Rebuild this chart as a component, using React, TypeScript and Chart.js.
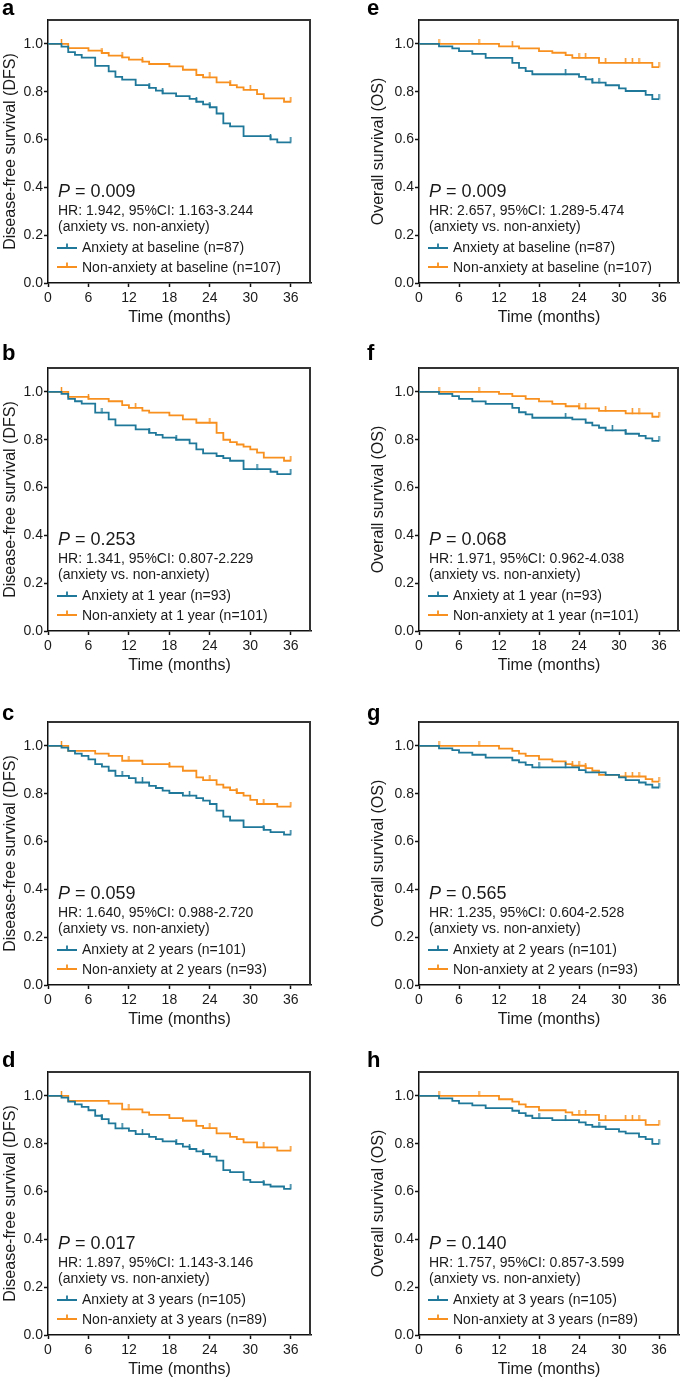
import React, { useEffect, useRef } from "react";
import { Chart, registerables } from "chart.js";
Chart.register(...registerables);

// ---------- axis ticks ----------
const xTicks = [0, 6, 12, 18, 24, 30, 36];
const yTicks = [0, 0.2, 0.4, 0.6, 0.8, 1.0];
const yTickLabels = ["0.0", "0.2", "0.4", "0.6", "0.8", "1.0"];
const X_MAX = 39;
const Y_MAX = 1.1;

// ---------- panel a (DFS, baseline) ----------
const aAnxT = [0, 2, 3, 4, 5, 7, 9, 10, 11, 13, 15, 16, 17, 19, 21, 22, 23, 24, 25, 26, 27, 29, 33, 34, 36];
const aAnxS = [1, 0.989, 0.966, 0.954, 0.943, 0.908, 0.885, 0.862, 0.851, 0.828, 0.816, 0.805, 0.793, 0.782, 0.77, 0.758, 0.747, 0.735, 0.709, 0.668, 0.655, 0.614, 0.601, 0.588, 0.588];
const aAnxC = [15, 17, 22, 24, 33, 36];
const aNonT = [0, 3, 6, 8, 9, 11, 12, 14, 15, 18, 20, 22, 23, 25, 27, 28, 29, 31, 32, 35, 36];
const aNonS = [1, 0.982, 0.972, 0.962, 0.951, 0.944, 0.934, 0.926, 0.916, 0.906, 0.892, 0.87, 0.86, 0.839, 0.828, 0.818, 0.808, 0.79, 0.772, 0.758, 0.758];
const aNonC = [2, 8, 11, 14, 24, 27, 30, 36];

// ---------- panel b (DFS, 1 year) ----------
const bAnxT = [0, 2, 3, 4, 5, 7, 9, 10, 13, 15, 16, 17, 19, 21, 22, 23, 25, 26, 27, 29, 33, 34, 36];
const bAnxS = [1, 0.992, 0.971, 0.961, 0.951, 0.913, 0.885, 0.86, 0.843, 0.829, 0.82, 0.809, 0.8, 0.785, 0.76, 0.743, 0.732, 0.723, 0.712, 0.677, 0.666, 0.656, 0.656];
const bAnxC = [8, 15, 19, 31, 36];
const bNonT = [0, 3, 6, 9, 11, 12, 14, 15, 18, 20, 22, 25, 26, 27, 28, 29, 30, 31, 32, 35, 36];
const bNonS = [1, 0.979, 0.971, 0.961, 0.945, 0.933, 0.922, 0.913, 0.902, 0.885, 0.871, 0.829, 0.8, 0.79, 0.78, 0.771, 0.76, 0.746, 0.725, 0.712, 0.712];
const bNonC = [2, 6, 13, 24, 36];

// ---------- panel c (DFS, 2 years) ----------
const cAnxT = [0, 2, 3, 4, 5, 6, 7, 8, 9, 10, 12, 13, 15, 16, 17, 18, 20, 22, 23, 24, 25, 26, 27, 29, 32, 33, 35, 36];
const cAnxS = [1, 0.993, 0.979, 0.968, 0.958, 0.944, 0.924, 0.913, 0.896, 0.875, 0.865, 0.847, 0.833, 0.824, 0.813, 0.803, 0.792, 0.782, 0.771, 0.757, 0.729, 0.704, 0.688, 0.66, 0.649, 0.639, 0.629, 0.629];
const cAnxC = [11, 14, 21, 32, 36];
const cNonT = [0, 3, 7, 9, 11, 14, 18, 20, 22, 23, 25, 26, 27, 28, 29, 30, 31, 34, 36];
const cNonS = [1, 0.979, 0.968, 0.958, 0.938, 0.924, 0.913, 0.896, 0.868, 0.857, 0.838, 0.826, 0.815, 0.803, 0.792, 0.774, 0.757, 0.746, 0.746];
const cNonC = [2, 12, 18, 24, 28, 32, 36];

// ---------- panel d (DFS, 3 years) ----------
const dAnxT = [0, 2, 3, 4, 5, 6, 7, 8, 9, 10, 12, 13, 15, 16, 17, 19, 20, 21, 22, 23, 24, 25, 26, 27, 29, 30, 32, 33, 35, 36];
const dAnxS = [1, 0.993, 0.976, 0.965, 0.954, 0.94, 0.917, 0.903, 0.885, 0.864, 0.854, 0.84, 0.829, 0.819, 0.81, 0.799, 0.788, 0.778, 0.768, 0.757, 0.746, 0.729, 0.69, 0.681, 0.649, 0.639, 0.629, 0.621, 0.611, 0.611];
const dAnxC = [8, 11, 14, 19, 21, 23, 32, 36];
const dNonT = [0, 3, 9, 11, 14, 15, 18, 20, 22, 23, 25, 27, 28, 29, 31, 34, 36];
const dNonS = [1, 0.979, 0.968, 0.944, 0.931, 0.921, 0.907, 0.896, 0.875, 0.865, 0.843, 0.829, 0.819, 0.806, 0.785, 0.771, 0.771];
const dNonC = [2, 12, 24, 32, 36];

// ---------- panel e (OS, baseline) ----------
const eAnxT = [0, 3, 5, 6, 8, 10, 14, 15, 16, 17, 24, 25, 26, 28, 30, 31, 34, 35, 36];
const eAnxS = [1, 0.99, 0.981, 0.97, 0.958, 0.942, 0.921, 0.9, 0.886, 0.873, 0.862, 0.852, 0.838, 0.827, 0.814, 0.803, 0.787, 0.769, 0.769];
const eAnxC = [22, 26, 27, 36];
const eNonT = [0, 12, 15, 18, 20, 22, 23, 27, 35, 36];
const eNonS = [1, 0.99, 0.981, 0.97, 0.963, 0.953, 0.942, 0.921, 0.903, 0.903];
const eNonC = [3, 9, 14, 24, 25, 28, 31, 32, 33, 36];

// ---------- panel f (OS, 1 year) ----------
const fAnxT = [0, 3, 5, 6, 8, 10, 14, 15, 16, 17, 23, 25, 26, 27, 28, 31, 33, 34, 35, 36];
const fAnxS = [1, 0.992, 0.982, 0.971, 0.96, 0.95, 0.933, 0.915, 0.906, 0.892, 0.885, 0.871, 0.86, 0.85, 0.839, 0.825, 0.816, 0.806, 0.795, 0.795];
const fAnxC = [22, 29, 31, 36];
const fNonT = [0, 12, 14, 16, 18, 20, 22, 24, 27, 31, 35, 36];
const fNonS = [1, 0.992, 0.982, 0.971, 0.96, 0.95, 0.94, 0.931, 0.921, 0.91, 0.896, 0.896];
const fNonC = [3, 9, 24, 25, 28, 32, 33, 36];

// ---------- panel g (OS, 2 years) ----------
const gAnxT = [0, 3, 5, 6, 8, 10, 14, 15, 16, 17, 24, 25, 28, 30, 31, 33, 34, 35, 36];
const gAnxS = [1, 0.99, 0.982, 0.972, 0.963, 0.951, 0.94, 0.931, 0.921, 0.91, 0.899, 0.889, 0.879, 0.868, 0.857, 0.847, 0.838, 0.826, 0.826];
const gAnxC = [18, 22, 36];
const gNonT = [0, 12, 14, 15, 16, 18, 20, 22, 23, 25, 26, 27, 30, 34, 35, 36];
const gNonS = [1, 0.989, 0.979, 0.968, 0.958, 0.944, 0.935, 0.924, 0.917, 0.907, 0.896, 0.879, 0.872, 0.861, 0.851, 0.851];
const gNonC = [3, 9, 23, 24, 25, 31, 32, 33, 36];

// ---------- panel h (OS, 3 years) ----------
const hAnxT = [0, 3, 5, 6, 8, 10, 14, 15, 16, 17, 20, 24, 25, 26, 28, 30, 31, 33, 34, 35, 36];
const hAnxS = [1, 0.99, 0.979, 0.969, 0.96, 0.949, 0.938, 0.928, 0.917, 0.907, 0.899, 0.889, 0.879, 0.871, 0.861, 0.851, 0.843, 0.829, 0.819, 0.799, 0.799];
const hAnxC = [18, 22, 27, 36];
const hNonT = [0, 12, 14, 15, 16, 18, 22, 23, 27, 34, 36];
const hNonS = [1, 0.986, 0.976, 0.965, 0.954, 0.94, 0.931, 0.921, 0.899, 0.879, 0.879];
const hNonC = [3, 9, 24, 25, 28, 31, 32, 33, 36];

// ---------- texts ----------
const panelLetters = ["a", "b", "c", "d", "e", "f", "g", "h"];
const pValues = ["0.009", "0.253", "0.059", "0.017", "0.009", "0.068", "0.565", "0.140"];
const hrTexts = [
  "HR: 1.942, 95%CI: 1.163-3.244",
  "HR: 1.341, 95%CI: 0.807-2.229",
  "HR: 1.640, 95%CI: 0.988-2.720",
  "HR: 1.897, 95%CI: 1.143-3.146",
  "HR: 2.657, 95%CI: 1.289-5.474",
  "HR: 1.971, 95%CI: 0.962-4.038",
  "HR: 1.235, 95%CI: 0.604-2.528",
  "HR: 1.757, 95%CI: 0.857-3.599",
];
const compareText = "(anxiety vs. non-anxiety)";
const anxLabels = [
  "Anxiety at baseline (n=87)",
  "Anxiety at 1 year (n=93)",
  "Anxiety at 2 years (n=101)",
  "Anxiety at 3 years (n=105)",
  "Anxiety at baseline (n=87)",
  "Anxiety at 1 year (n=93)",
  "Anxiety at 2 years (n=101)",
  "Anxiety at 3 years (n=105)",
];
const nonLabels = [
  "Non-anxiety at baseline (n=107)",
  "Non-anxiety at 1 year (n=101)",
  "Non-anxiety at 2 years (n=93)",
  "Non-anxiety at 3 years (n=89)",
  "Non-anxiety at baseline (n=107)",
  "Non-anxiety at 1 year (n=101)",
  "Non-anxiety at 2 years (n=93)",
  "Non-anxiety at 3 years (n=89)",
];
const yTitleDFS = "Disease-free survival (DFS)";
const yTitleOS = "Overall survival (OS)";
const xTitle = "Time (months)";

const curves = [
  [aAnxT, aAnxS, aAnxC, aNonT, aNonS, aNonC],
  [bAnxT, bAnxS, bAnxC, bNonT, bNonS, bNonC],
  [cAnxT, cAnxS, cAnxC, cNonT, cNonS, cNonC],
  [dAnxT, dAnxS, dAnxC, dNonT, dNonS, dNonC],
  [eAnxT, eAnxS, eAnxC, eNonT, eNonS, eNonC],
  [fAnxT, fAnxS, fAnxC, fNonT, fNonS, fNonC],
  [gAnxT, gAnxS, gAnxC, gNonT, gNonS, gNonC],
  [hAnxT, hAnxS, hAnxC, hNonT, hNonS, hNonC],
];

// ---------- styling / layout ----------
const BLUE = "#1f7899";
const ORANGE = "#f7901e";
const INK = "#1a1a1a";
const FONT = "'Liberation Sans', Arial, Helvetica, sans-serif";
const W = 342;
const PLOT_H = 263;
const X_AXIS_H = 45;
const colAreaLeft = [48, 77];
const colAreaRight = [311, 341];
const colYTitlePad = [1, 27];
const colLetterX = [2, 25];
const rowTop = [0, 340, 694, 1044];
const rowTopPad = [20, 28, 28, 28];
const rowLetterBase = [15, 20, 26, 23];

function survAt(T: number[], S: number[], t: number) {
  let v = S[0];
  for (let i = 0; i < T.length; i++) if (T[i] <= t) v = S[i];
  return v;
}

function makeTick(color: string) {
  const c = document.createElement("canvas");
  c.width = 3;
  c.height = 10;
  const g = c.getContext("2d")!;
  g.fillStyle = color;
  g.fillRect(0.75, 0, 1.5, 5.5);
  return c;
}

function Panel({ idx }: { idx: number }) {
  const ref = useRef<HTMLCanvasElement | null>(null);
  const col = Math.floor(idx / 4);
  const row = idx % 4;
  const topPad = rowTopPad[row];
  const H = topPad + PLOT_H + X_AXIS_H;
  useEffect(() => {
    const canvas = ref.current;
    if (!canvas) return;
    const [at, as, ac, nt, ns, nc] = curves[idx];
    const tickBlue = makeTick(BLUE);
    const tickOrange = makeTick(ORANGE);

    const annot = {
      id: "annot" + idx,
      afterDraw(chart: any) {
        const { ctx, chartArea } = chart;
        const L = chartArea.left;
        const T = chartArea.top;
        ctx.save();
        // frame (top + right)
        ctx.strokeStyle = "#333";
        ctx.lineWidth = 2;
        ctx.beginPath();
        ctx.moveTo(L, T);
        ctx.lineTo(chartArea.right - 1, T);
        ctx.lineTo(chartArea.right - 1, chartArea.bottom);
        ctx.stroke();
        // panel letter
        ctx.fillStyle = "#000";
        ctx.textBaseline = "alphabetic";
        ctx.textAlign = "left";
        ctx.font = `bold 22px ${FONT}`;
        ctx.fillText(panelLetters[idx], colLetterX[col], rowLetterBase[row]);
        // P value
        ctx.fillStyle = INK;
        ctx.font = `italic 18px ${FONT}`;
        const px = L + 10;
        ctx.fillText("P", px, T + 177);
        const pw = ctx.measureText("P").width;
        ctx.font = `18px ${FONT}`;
        ctx.fillText(" = " + pValues[idx], px + pw, T + 177);
        ctx.font = `14px ${FONT}`;
        ctx.fillText(hrTexts[idx], px, T + 195);
        ctx.fillText(compareText, px, T + 211);
        // legend
        const items = [
          [BLUE, anxLabels[idx], 228, 232],
          [ORANGE, nonLabels[idx], 247, 252],
        ] as const;
        for (const [color, label, ly, ty] of items) {
          ctx.strokeStyle = color;
          ctx.lineWidth = 1.8;
          ctx.beginPath();
          ctx.moveTo(L + 9, T + ly);
          ctx.lineTo(L + 29, T + ly);
          ctx.moveTo(L + 19, T + ly);
          ctx.lineTo(L + 19, T + ly - 4.5);
          ctx.stroke();
          ctx.fillStyle = INK;
          ctx.fillText(label, L + 34, T + ty);
        }
        ctx.restore();
      },
    };

    const chart = new Chart(canvas, {
      type: "line",
      data: {
        datasets: [
          {
            label: anxLabels[idx],
            data: at.map((t, i) => ({ x: t, y: as[i] })),
            borderColor: BLUE,
            borderWidth: 1.8,
            stepped: "before",
            pointRadius: 0,
            fill: false,
          },
          {
            label: "censored (anxiety)",
            data: ac.map((t) => ({ x: t, y: survAt(at, as, t) })),
            showLine: false,
            pointStyle: tickBlue,
            pointRadius: 3,
            borderColor: BLUE,
            backgroundColor: BLUE,
          },
          {
            label: nonLabels[idx],
            data: nt.map((t, i) => ({ x: t, y: ns[i] })),
            borderColor: ORANGE,
            borderWidth: 1.8,
            stepped: "before",
            pointRadius: 0,
            fill: false,
          },
          {
            label: "censored (non-anxiety)",
            data: nc.map((t) => ({ x: t, y: survAt(nt, ns, t) })),
            showLine: false,
            pointStyle: tickOrange,
            pointRadius: 3,
            borderColor: ORANGE,
            backgroundColor: ORANGE,
          },
        ],
      } as any,
      options: {
        responsive: false,
        animation: false,
        devicePixelRatio: 1,
        layout: { padding: { top: topPad, right: W - colAreaRight[col], left: 0, bottom: 0 } },
        plugins: { legend: { display: false }, tooltip: { enabled: false } },
        scales: {
          x: {
            type: "linear",
            min: 0,
            max: X_MAX,
            afterBuildTicks: (s: any) => {
              s.ticks = xTicks.map((v) => ({ value: v }));
            },
            afterFit: (s: any) => {
              s.height = X_AXIS_H;
            },
            grid: { drawOnChartArea: false, drawTicks: true, tickLength: 4, tickWidth: 1.5, tickColor: "#111" },
            border: { display: true, color: "#111", width: 1.5 },
            ticks: {
              color: INK,
              font: { family: FONT, size: 14 },
              padding: 3,
              maxRotation: 0,
              autoSkip: false,
              callback: (v: any) => String(v),
            },
            title: {
              display: true,
              text: xTitle,
              color: INK,
              font: { family: FONT, size: 16 },
              padding: { top: 0, bottom: 1 },
            },
          },
          y: {
            type: "linear",
            min: 0,
            max: Y_MAX,
            afterBuildTicks: (s: any) => {
              s.ticks = yTicks.map((v) => ({ value: v }));
            },
            afterFit: (s: any) => {
              s.width = colAreaLeft[col];
            },
            grid: { drawOnChartArea: false, drawTicks: true, tickLength: 4, tickWidth: 1.5, tickColor: "#111" },
            border: { display: true, color: "#111", width: 1.5 },
            ticks: {
              color: INK,
              font: { family: FONT, size: 14 },
              padding: 1,
              autoSkip: false,
              callback: (_v: any, i: number) => yTickLabels[i],
            },
            title: {
              display: true,
              text: col === 0 ? yTitleDFS : yTitleOS,
              color: INK,
              font: { family: FONT, size: 16 },
              padding: { top: colYTitlePad[col], bottom: 0 },
            },
          },
        },
      } as any,
      plugins: [annot],
    });
    return () => chart.destroy();
  }, [idx]);

  return (
    <canvas
      ref={ref}
      width={W}
      height={H}
      style={{ position: "absolute", left: col * W, top: rowTop[row], width: W, height: H, display: "block" }}
    />
  );
}

export default function App() {
  return (
    <div style={{ position: "absolute", left: 0, top: 0, width: 684, height: 1380, background: "#fff" }}>
      {[0, 1, 2, 3, 4, 5, 6, 7].map((i) => (
        <Panel key={i} idx={i} />
      ))}
    </div>
  );
}
